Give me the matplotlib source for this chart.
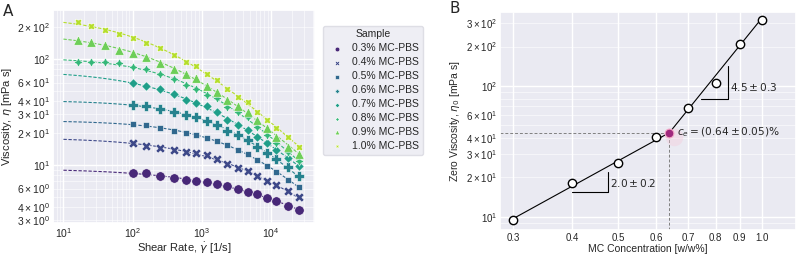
import numpy as np
import matplotlib
matplotlib.use('Agg')
import matplotlib.pyplot as plt
import seaborn as sns
from matplotlib.ticker import LogFormatterSciNotation, FixedLocator, NullLocator, NullFormatter

# DATA

# shear rates [1/s]; low concentrations start at 100
shear_all = [16, 25, 40, 63, 100, 158, 251, 398, 600, 830, 1170, 1660, 2340, 3300, 4680, 6300, 8900, 12000, 17400, 25000]
shear_low = shear_all[4:]

samples = ['0.3% MC-PBS', '0.4% MC-PBS', '0.5% MC-PBS', '0.6% MC-PBS',
           '0.7% MC-PBS', '0.8% MC-PBS', '0.9% MC-PBS', '1.0% MC-PBS']

visc_03 = [8.5, 8.4, 7.8, 7.5, 7.3, 7.0, 6.9, 6.6, 6.3, 5.9, 5.6, 5.3, 4.9, 4.6, 4.1, 3.75]
visc_04 = [16.3, 15.1, 14.4, 13.9, 13.3, 12.9, 12.3, 11.4, 10.3, 9.4, 8.7, 7.8, 7.1, 6.5, 5.7, 5.0]
visc_05 = [24.4, 23.8, 22.2, 21.1, 20.0, 19.0, 18.0, 16.9, 15.4, 14.0, 12.6, 11.2, 9.8, 8.6, 7.3, 6.2]
visc_06 = [36.8, 36.0, 33.5, 31.8, 29.6, 28.3, 26.2, 23.8, 21.1, 19.2, 17.2, 14.9, 12.9, 11.3, 9.5, 7.8]
visc_07 = [59, 55.6, 51.7, 46.4, 41, 38.2, 36, 31.8, 26.6, 23.8, 21.3, 18.5, 16.0, 13.9, 11.6, 9.7]
visc_08 = [93, 94, 94, 91, 84.5, 80, 72, 64.7, 57, 52, 46, 42.5, 35.5, 31.8, 28.6, 23.0, 19.0, 16.0, 13.2, 11.0]
visc_09 = [151, 144, 137, 122, 115, 104, 92, 80, 72, 65.8, 55.6, 49.2, 41, 36, 31.8, 26.6, 22.2, 18.5, 14.9, 12.6]
visc_10 = [221, 205, 188, 172, 157, 143, 126, 109, 94, 86, 72, 63, 51.8, 44, 39.5, 31.8, 26.6, 22.2, 18.5, 14.9]

# zero viscosity vs concentration (panel B)
conc = [0.3, 0.4, 0.5, 0.6, 0.7, 0.8, 0.9, 1.0]
eta0 = [9.4, 18.1, 25.7, 41.0, 67.6, 105, 208, 319]
c_e = 0.64
eta_e = 44.0
slope_dilute = 2.0
slope_semi = 4.5

##########################################################################################################################################

# Cross model fit, brute force grid (log space)

def cross_fit(gam, eta):
  gam = np.asarray(gam, float)
  le = np.log10(eta)
  best = None
  for ll in np.linspace(-6, 0, 121):
    for m in np.linspace(0.2, 1.2, 51):
      t = np.log10(1 + (10**ll * gam)**m)
      l0 = np.mean(le + t)
      err = np.sum((le + t - l0)**2)
      if best is None or err < best[0]:
        best = (err, 10**l0, 10**ll, m)
  return best[1:]

def cross(gam, e0, lam, m):
  return e0 / (1 + (lam * gam)**m)

##########################################################################################################################################

sns.set_theme(style='darkgrid')
plt.rcParams['font.family'] = ['Liberation Sans', 'DejaVu Sans']
plt.rcParams['mathtext.fontset'] = 'dejavusans'

fig = plt.figure(figsize=(7.99, 2.56), dpi=100)
axA = fig.add_axes([0.066, 0.129, 0.328, 0.832])
axB = fig.add_axes([0.626, 0.102, 0.370, 0.851])

colors = plt.get_cmap('viridis')(np.linspace(0, 1, 10)[1:-1])
markers = ['o', 'X', (4, 0, 45), 'P', (4, 0, 0), (4, 1, 0), '^', (4, 1, 45)]
series = [visc_03, visc_04, visc_05, visc_06, visc_07, visc_08, visc_09, visc_10]
xfit = np.logspace(1, np.log10(28000), 200)

for i in range(len(series)):
  x = shear_low if len(series[i]) == len(shear_low) else shear_all
  p = cross_fit(x, series[i])
  axA.plot(xfit, cross(xfit, *p), ls=(0, (3, 1.5)), lw=0.8, color=colors[i], zorder=2)
  axA.scatter(x, series[i], s=46, marker=markers[i], color=colors[i], edgecolor='white',
              linewidth=0.4, label=samples[i], zorder=3)

axA.set_xscale('log')
axA.set_yscale('log')
axA.set_xlim(7, 43000)
axA.set_ylim(2.84, 290)
axA.yaxis.set_minor_formatter(LogFormatterSciNotation(labelOnlyBase=False, minor_thresholds=(3, 0.4)))
axA.tick_params(which='both', labelsize=7.5, pad=2, length=0)
axA.grid(which='minor', color='white', lw=0.4)
axA.set_xlabel(r'Shear Rate, $\dot{\gamma}$ [1/s]', fontsize=8, labelpad=1)
axA.set_ylabel(r'Viscosity, $\eta$ [mPa s]', fontsize=8, labelpad=2)
leg = axA.legend(title='Sample', loc='upper left', bbox_to_anchor=(1.01, 0.95), fontsize=7.5,
                 title_fontsize=7.5, frameon=True, markerscale=0.5, handletextpad=0.5,
                 labelspacing=0.38, borderpad=0.35)
leg.get_frame().set_facecolor('#EAEAF2')
leg.get_frame().set_edgecolor('#d8d8e0')

##########################################################################################################################################

# Panel B

cl = np.array([conc[0], c_e])
ch = np.array([c_e, conc[-1]])
axB.plot(cl, eta_e * (cl / c_e)**slope_dilute, color='black', lw=0.8, zorder=2)
axB.plot(ch, eta_e * (ch / c_e)**slope_semi, color='black', lw=0.8, zorder=2)
axB.plot(conc, eta0, 'o', ms=6, mfc='white', mec='black', mew=1.0, zorder=3)

axB.set_xscale('log')
axB.set_yscale('log')
axB.set_xlim(0.282, 1.18)
axB.set_ylim(7.95, 367)

axB.plot([0.282, c_e], [eta_e, eta_e], color='grey', lw=0.7, ls=(0, (3, 2)), zorder=1)
axB.plot([c_e, c_e], [7.95, eta_e], color='grey', lw=0.7, ls=(0, (3, 2)), zorder=1)
axB.scatter([c_e * 1.02], [eta_e * 0.93], s=160, color='#f7c6d8', alpha=0.35, lw=0, zorder=2)
axB.scatter([c_e], [eta_e], s=40, color='#a0287d', edgecolor='#f4a8c8', lw=0.8, zorder=4)
axB.text(c_e * 1.035, eta_e, r'$c_e = (0.64 \pm 0.05)\%$', fontsize=7.6, va='center', ha='left')

# slope triangles
t1 = np.array([0.4, 0.475])
axB.plot([t1[0], t1[1], t1[1]], [15.5, 15.5, 15.5 * (t1[1] / t1[0])**slope_dilute], color='black', lw=0.8)
axB.text(t1[1] * 1.01, 15.5 * 1.17, r'$2.0 \pm 0.2$', fontsize=7.6, va='center', ha='left')
t2 = np.array([0.747, 0.849])
axB.plot([t2[0], t2[1], t2[1]], [79.6, 79.6, 79.6 * (t2[1] / t2[0])**slope_semi], color='black', lw=0.8)
axB.text(t2[1] * 1.01, 79.6 * 1.23, r'$4.5 \pm 0.3$', fontsize=7.6, va='center', ha='left')

axB.xaxis.set_major_locator(FixedLocator(conc))
axB.xaxis.set_major_formatter(plt.FixedFormatter(['%.1f' % c for c in conc]))
axB.xaxis.set_minor_locator(NullLocator())
axB.xaxis.set_minor_formatter(NullFormatter())
axB.yaxis.set_minor_formatter(LogFormatterSciNotation(labelOnlyBase=False, minor_thresholds=(3, 0.4)))
axB.tick_params(which='both', labelsize=7, pad=2, length=0)
axB.grid(which='minor', axis='y', color='white', lw=0.4)
axB.set_xlabel('MC Concentration [w/w%]', fontsize=7.5, labelpad=1)
axB.set_ylabel(r'Zero Viscosity, $\eta_0$ [mPa s]', fontsize=7.5, labelpad=3)

fig.text(0.004, 0.955, 'A', fontsize=11, family='DejaVu Sans', va='center')
fig.text(0.562, 0.965, 'B', fontsize=11, family='DejaVu Sans', va='center')

fig.savefig('out.png', dpi=100)
